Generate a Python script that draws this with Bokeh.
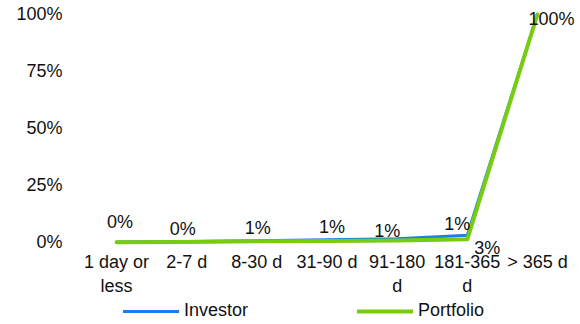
from bokeh.plotting import figure
from bokeh.models import ColumnDataSource, Legend, LegendItem, FixedTicker, Range1d
from bokeh.core.properties import value
from bokeh.embed import file_html
from bokeh.resources import INLINE

categories = ["1 day or\nless", "2-7 d", "8-30 d", "31-90 d", "91-180\nd", "181-365\nd", "> 365 d"]
investor = [0.2, 0.4, 0.8, 1.2, 1.6, 3.2, 100]
portfolio = [0.1, 0.2, 0.5, 0.7, 0.9, 1.4, 100]
data_labels = ["0%", "0%", "1%", "1%", "1%", "1%", "100%"]
extra_label = "3%"
y_ticks = [0, 25, 50, 75, 100]
y_tick_labels = ["0%", "25%", "50%", "75%", "100%"]

FONT = "Liberation Sans"
FS = "18px"
TXT = "#111111"
BLUE = "#1a7fea"
GREEN = "#77cc12"

xs = list(range(len(categories)))

p = figure(frame_width=497, frame_height=322, output_backend="svg", toolbar_location=None,
           x_range=Range1d(-0.5, len(categories) - 0.5 + 6 / 70.14), y_range=Range1d(-35.09, 106.14),
           min_border_left=81, min_border_right=0, min_border_top=0, min_border_bottom=0)
p.outline_line_color = None
p.grid.visible = False
p.background_fill_color = "white"

inv_r = p.line(xs, investor, line_color=BLUE, line_width=3, line_cap="round", line_join="round")
por_r = p.line(xs, portfolio, line_color=GREEN, line_width=4, line_cap="round", line_join="round")

# data labels
lab_src = ColumnDataSource(dict(
    x=xs + [xs[5]],
    y=portfolio[:6] + [100, portfolio[5]],
    text=data_labels + [extra_label],
    dx=[3.5, -4, 1, 5, -10, -10, 14, 20],
    dy=[-20, -13.5, -13, -14, -9, -15, 5, 9],
))
p.text(x="x", y="y", text="text", x_offset="dx", y_offset="dy", source=lab_src,
       text_font=value(FONT), text_font_size=FS, text_color=TXT,
       text_align="center", text_baseline="middle")

# y axis
p.yaxis.ticker = FixedTicker(ticks=y_ticks)
p.yaxis.major_label_overrides = {t: l for t, l in zip(y_ticks, y_tick_labels)}
p.yaxis.axis_line_color = None
p.yaxis.major_tick_line_color = None
p.yaxis.minor_tick_line_color = None
p.yaxis.major_tick_out = 0
p.yaxis.major_tick_in = 0
p.yaxis.major_label_standoff = 19
p.yaxis.major_label_text_font = FONT
p.yaxis.major_label_text_font_size = FS
p.yaxis.major_label_text_color = TXT

# x axis (labels drawn up into the frame area, above the legend row)
p.xaxis.ticker = FixedTicker(ticks=xs)
p.xaxis.major_label_overrides = {i: c for i, c in zip(xs, categories)}
p.xaxis.axis_line_color = None
p.xaxis.major_tick_line_color = None
p.xaxis.minor_tick_line_color = None
p.xaxis.major_tick_out = 0
p.xaxis.major_tick_in = 0
p.xaxis.major_label_standoff = -71
p.xaxis.major_label_text_font = FONT
p.xaxis.major_label_text_font_size = FS
p.xaxis.major_label_text_color = TXT
p.xaxis.axis_label = " "
p.xaxis.axis_label_standoff = 200
p.xaxis.axis_label_text_font_size = "10px"

legend = Legend(items=[LegendItem(label="Investor", renderers=[inv_r]),
                       LegendItem(label="Portfolio", renderers=[por_r])],
                orientation="horizontal", location=(42, 1),
                label_text_font=FONT, label_text_font_size=FS, label_text_color=TXT,
                glyph_width=56, glyph_height=14, label_standoff=5, label_width=100,
                spacing=73, padding=0, margin=0, border_line_color=None,
                background_fill_alpha=0)
p.add_layout(legend, "center")

open("out.html", "w").write(file_html(p, INLINE))
